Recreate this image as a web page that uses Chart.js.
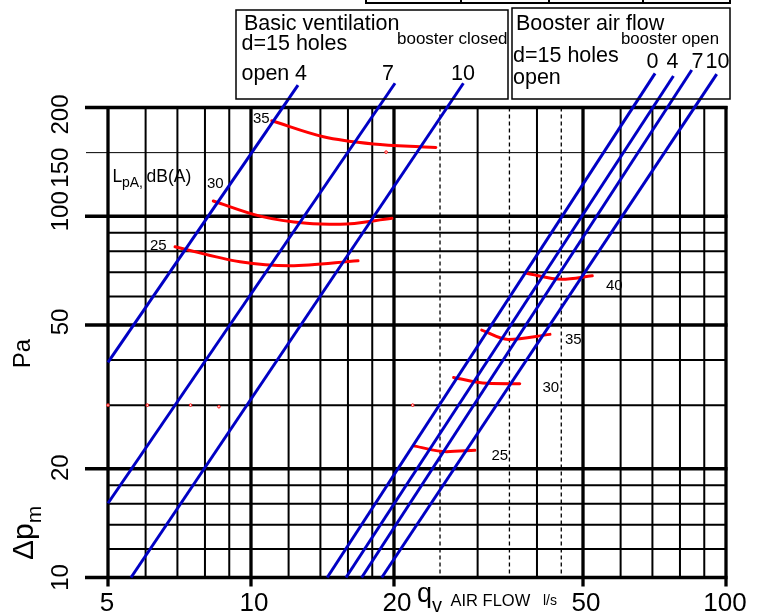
<!DOCTYPE html>
<html>
<head>
<meta charset="utf-8">
<script src="https://cdn.jsdelivr.net/npm/chart.js@4.4.0/dist/chart.umd.min.js"></script>
<style>
html,body{margin:0;padding:0;background:#fff;}
canvas{display:block;}
</style>
</head>
<body>
<canvas id="c" width="766" height="613"></canvas>
<script>
// ---------- axis ticks / grid values ----------
const xTickLabels = [5, 10, 20, 50, 100];
const yTickLabels = [10, 20, 50, 100, 150, 200];
const xMajorGrid = [5, 10, 20, 50, 100];
const xMinorGrid = [6, 7, 8, 9, 12, 14, 16, 18, 30, 40, 60, 70, 80, 90];
const xDashedGrid = [25, 35, 45];
const yMajorGrid = [10, 20, 50, 100, 200];
const yMinorGrid = [12, 14, 16, 18, 30, 40, 60, 70, 80, 90];
const yThinGrid = [150];

// ---------- basic ventilation (booster closed) lines: q (l/s), dp (Pa) ----------
const basicLabels = ['4', '7', '10'];
const basicStartQ = [5, 5, 5.59];
const basicStartDp = [39.4, 16.05, 10];
const basicEndQ = [12.56, 20.1, 28.0];
const basicEndDp = [230.7, 233.4, 233.4];

// ---------- booster air flow (booster open) lines ----------
const boosterLabels = ['0', '4', '7', '10'];
const boosterStartQ = [14.47, 15.85, 17.1, 18.85];
const boosterStartDp = [10, 10, 10, 10];
const boosterEndQ = [70.9, 77.5, 84.7, 95.6];
const boosterEndDp = [248.6, 244.4, 254, 247.5];

// ---------- sound level curves LpA dB(A) ----------
const lpBasic35Q = [11.06, 14.2, 18.09, 22.7, 24.5];
const lpBasic35Dp = [183.8, 166, 158.5, 155.7, 155.1];
const lpBasic30Q = [8.33, 10.45, 13.1, 15.4, 19.8];
const lpBasic30Dp = [110.2, 100.1, 95.6, 95.0, 98.7];
const lpBasic25Q = [6.92, 9.48, 12.08, 16.8];
const lpBasic25Dp = [82.3, 74.8, 72.9, 75.3];
const lpBooster40Q = [38.0, 45.1, 52.3];
const lpBooster40Dp = [69.5, 66.9, 68.4];
const lpBooster35Q = [30.6, 34.8, 42.6];
const lpBooster35Dp = [48.4, 45.6, 47.1];
const lpBooster30Q = [26.7, 31.35, 36.8];
const lpBooster30Dp = [35.8, 34.5, 34.4];
const lpBooster25Q = [22.1, 25.8, 29.6];
const lpBooster25Dp = [23.1, 22.3, 22.5];

// small red specks in the original
const speckQ = [3.98, 5, 6.05, 7.46, 8.56, 21.9, 19.25];
const speckDp = [30, 30, 30, 30, 29.7, 30, 150.5];

// ---------- styling ----------
const BLUE = '#0000c4';
const RED = '#ff0000';
const FONT = "'Liberation Sans', Arial, sans-serif";

const pts = (qs, dps) => qs.map((q, i) => ({x: q, y: dps[i]}));

const datasets = [];
basicLabels.forEach((lab, i) => datasets.push({
  label: 'basic ' + lab,
  data: [{x: basicStartQ[i], y: basicStartDp[i]}, {x: basicEndQ[i], y: basicEndDp[i]}],
  borderColor: BLUE, borderWidth: 3, pointRadius: 0, clip: false, tension: 0
}));
boosterLabels.forEach((lab, i) => datasets.push({
  label: 'booster ' + lab,
  data: [{x: boosterStartQ[i], y: boosterStartDp[i]}, {x: boosterEndQ[i], y: boosterEndDp[i]}],
  borderColor: BLUE, borderWidth: 3, pointRadius: 0, clip: false, tension: 0
}));
const noiseCurves = [
  ['35', lpBasic35Q, lpBasic35Dp], ['30', lpBasic30Q, lpBasic30Dp], ['25', lpBasic25Q, lpBasic25Dp],
  ['40', lpBooster40Q, lpBooster40Dp], ['35', lpBooster35Q, lpBooster35Dp],
  ['30', lpBooster30Q, lpBooster30Dp], ['25', lpBooster25Q, lpBooster25Dp]
];
noiseCurves.forEach(([lab, q, dp]) => datasets.push({
  label: 'LpA ' + lab, data: pts(q, dp),
  borderColor: RED, borderWidth: 3, pointRadius: 0, clip: false,
  cubicInterpolationMode: 'monotone', borderCapStyle: 'round'
}));
datasets.push({
  label: 'specks', data: pts(speckQ, speckDp), showLine: false, clip: false,
  pointRadius: 1.3, pointBorderColor: RED, pointBackgroundColor: '#fff', pointBorderWidth: 1
});

// ---------- grid drawing ----------
const gridPlugin = {
  id: 'gridPlugin',
  beforeDatasetsDraw(chart) {
    const {ctx, chartArea: a, scales: {x, y}} = chart;
    ctx.save();
    ctx.strokeStyle = '#000';
    ctx.lineCap = 'butt';
    const vline = (v, w, y0, y1, dash) => {
      const p = x.getPixelForValue(v);
      ctx.lineWidth = w; ctx.setLineDash(dash || []);
      ctx.beginPath(); ctx.moveTo(p, y0); ctx.lineTo(p, y1); ctx.stroke();
    };
    const hline = (v, w, x0, x1) => {
      const p = y.getPixelForValue(v);
      ctx.lineWidth = w; ctx.setLineDash([]);
      ctx.beginPath(); ctx.moveTo(x0, p); ctx.lineTo(x1, p); ctx.stroke();
    };
    xMinorGrid.forEach(v => vline(v, 2, a.top, a.bottom));
    yMinorGrid.forEach(v => hline(v, 2, a.left, a.right));
    xDashedGrid.forEach(v => vline(v, 1.3, a.top, a.bottom, [4, 3]));
    yThinGrid.forEach(v => hline(v, 1, 86, a.right));
    xMajorGrid.forEach(v => vline(v, 3.3, a.top - 1.5, a.bottom + 9));
    yMajorGrid.forEach(v => hline(v, 3.3, 85, a.right + 1.5));
    ctx.restore();
  }
};

// ---------- text / frames ----------
const textPlugin = {
  id: 'textPlugin',
  afterDraw(chart) {
    const {ctx, scales: {x, y}} = chart;
    ctx.save();
    ctx.fillStyle = '#000';
    ctx.strokeStyle = '#000';
    ctx.textBaseline = 'alphabetic';
    const t = (s, px, py, size, align) => {
      ctx.font = size + 'px ' + FONT;
      ctx.textAlign = align || 'left';
      ctx.fillText(s, px, py);
    };

    // cut-off table at the very top
    ctx.lineWidth = 2;
    ctx.strokeRect(366, -6, 364, 9);
    [461, 549, 643].forEach(px => { ctx.beginPath(); ctx.moveTo(px, -6); ctx.lineTo(px, 3); ctx.stroke(); });

    // boxes
    ctx.lineWidth = 1.5;
    ctx.strokeRect(236, 10, 272, 89);
    ctx.strokeRect(512, 8, 218, 91);

    // box 1
    t('Basic ventilation', 244, 30, 21.5);
    t('d=15 holes', 241.5, 50, 21.5);
    t('open', 241.5, 80, 21.5);
    t('booster closed', 397, 44, 17);
    const basicLabelX = [301, 388, 463];
    basicLabels.forEach((s, i) => t(s, basicLabelX[i], 80, 21.5, 'center'));

    // box 2
    t('Booster air flow', 516, 30, 21.5);
    t('booster open', 621, 43.5, 16.8);
    t('d=15 holes', 513, 61.5, 21.5);
    t('open', 513, 84, 21.5);
    const boosterLabelX = [652.5, 672.5, 697.5, 717.5];
    boosterLabels.forEach((s, i) => t(s, boosterLabelX[i], 68, 21.5, 'center'));

    // LpA label
    t('L', 112.5, 181.5, 17.5);
    t('pA,', 122, 187, 14);
    t('dB(A)', 146.5, 181.5, 17.5);

    // curve level labels
    const lvlPos = [[253, 123], [207, 188], [150, 250], [606, 290], [565, 343.5], [542.5, 391.5], [491.5, 460]];
    noiseCurves.forEach(([lab], i) => t(lab, lvlPos[i][0], lvlPos[i][1], 15));

    // x tick labels
    xTickLabels.forEach(v => {
      const px = x.getPixelForValue(v);
      const dx = (v === 5 || v === 100) ? -1 : 3;
      t(String(v), px + dx, 610.5, 26, 'center');
    });

    // x axis title
    t('q', 417, 602, 27);
    t('v', 432, 612, 20);
    t('AIR FLOW', 450.5, 606, 16.5);
    t('l/s', 543, 605, 14);

    // y tick labels (rotated)
    const yNudge = {10: 0, 20: -1, 50: -3, 100: -5, 150: 15, 200: 7};
    yTickLabels.forEach(v => {
      const py = y.getPixelForValue(v) + yNudge[v];
      ctx.save();
      ctx.translate(68, py);
      ctx.rotate(-Math.PI / 2);
      t(String(v), 0, 0, 24, 'center');
      ctx.restore();
    });

    // y axis title (rotated)
    ctx.save();
    ctx.translate(30, 353.5);
    ctx.rotate(-Math.PI / 2);
    t('Pa', 0, 0, 24, 'center');
    ctx.restore();

    ctx.save();
    ctx.translate(33, 560);
    ctx.rotate(-Math.PI / 2);
    ctx.font = '30px ' + FONT;
    const w = ctx.measureText('\u0394p').width;
    t('\u0394p', 0, 0, 30);
    t('m', w, 8, 21);
    ctx.restore();

    ctx.restore();
  }
};

new Chart(document.getElementById('c'), {
  type: 'line',
  data: {datasets},
  options: {
    responsive: false,
    animation: false,
    devicePixelRatio: 1,
    events: [],
    layout: {padding: {left: 108, right: 40, top: 107.5, bottom: 35.5}},
    parsing: true,
    scales: {
      x: {type: 'logarithmic', min: 5, max: 100, display: false},
      y: {type: 'logarithmic', min: 10, max: 200, display: false}
    },
    plugins: {legend: {display: false}, tooltip: {enabled: false}}
  },
  plugins: [gridPlugin, textPlugin]
});
</script>
</body>
</html>
